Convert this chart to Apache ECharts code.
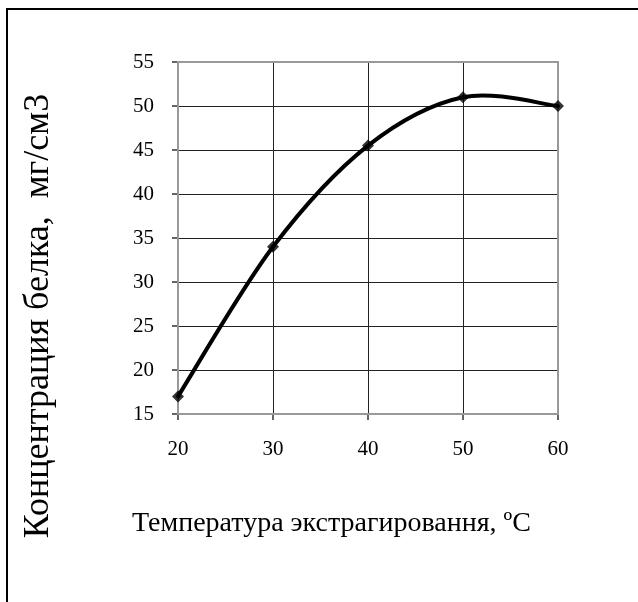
<!DOCTYPE html>
<html><head><meta charset="utf-8">
<script src="https://cdn.jsdelivr.net/npm/echarts@6/dist/echarts.min.js"></script>
<style>html,body{margin:0;padding:0;background:#fff}#c{width:638px;height:602px}</style>
</head><body><div id="c"></div>
<script>
const temperatures = [20, 30, 40, 50, 60];
const proteinConc = [17, 34, 45.5, 51, 50];
const xTitle = 'Температура экстрагировання, ºС';
const yTitle = 'Концентрация белка,  мг/см3';

const chart = echarts.init(document.getElementById('c'));
const serif = '"Liberation Serif", "DejaVu Serif", serif';
const pts = temperatures.map((t, i) => [t, proteinConc[i]]);

// Excel-like smoothed segment between point i and i+1, drawn through the axes' scales
function renderSegment(params, api) {
  const i = params.dataIndex;
  const n = pts.length;
  if (i >= n - 1) return null;
  const P = k => api.coord(pts[Math.max(0, Math.min(n - 1, k))]);
  const p0 = P(i - 1), p1 = P(i), p2 = P(i + 1), p3 = P(i + 2);
  const t = 1 / 6;
  return {
    type: 'bezierCurve',
    shape: {
      x1: p1[0], y1: p1[1], x2: p2[0], y2: p2[1],
      cpx1: p1[0] + (p2[0] - p0[0]) * t, cpy1: p1[1] + (p2[1] - p0[1]) * t,
      cpx2: p2[0] - (p3[0] - p1[0]) * t, cpy2: p2[1] - (p3[1] - p1[1]) * t
    },
    style: { stroke: '#000', lineWidth: 4, fill: 'none', lineCap: 'round' }
  };
}

chart.setOption({
  animation: false,
  backgroundColor: '#fff',
  grid: { left: 178, right: 80, top: 62, bottom: 188, show: false },
  xAxis: {
    type: 'value', min: 20, max: 60, interval: 10,
    axisLine: { show: true, lineStyle: { color: '#555', width: 2 } },
    axisTick: { show: true, length: 6, lineStyle: { color: '#333', width: 1.5 } },
    axisLabel: { color: '#000', fontFamily: serif, fontSize: 21, margin: 25 },
    splitLine: { show: true, lineStyle: { color: '#222', width: 1 } }
  },
  yAxis: {
    type: 'value', min: 15, max: 55, interval: 5,
    axisLine: { show: true, lineStyle: { color: '#555', width: 2 } },
    axisTick: { show: true, length: 6, lineStyle: { color: '#333', width: 1.5 } },
    axisLabel: { color: '#000', fontFamily: serif, fontSize: 21, margin: 24 },
    splitLine: { show: true, lineStyle: { color: '#222', width: 1 } }
  },
  graphic: [
    { type: 'rect', shape: { x: 7, y: 9, width: 800, height: 800 }, style: { fill: 'none', stroke: '#000', lineWidth: 2 }, z: 0 },
    { type: 'rect', shape: { x: 178, y: 62, width: 380, height: 352 }, style: { fill: 'none', stroke: '#999', lineWidth: 2 }, z: 1 },
    { type: 'text', x: 132, y: 524, style: { text: xTitle, font: '28px ' + serif, fill: '#000', textAlign: 'left', textVerticalAlign: 'middle' } },
    { type: 'text', x: 39, y: 316, rotation: Math.PI / 2, style: { text: yTitle, font: '36px ' + serif, fill: '#000', textAlign: 'center', textVerticalAlign: 'middle' } }
  ],
  series: [
    {
      type: 'custom',
      data: pts,
      renderItem: renderSegment,
      z: 5
    },
    {
      type: 'scatter',
      data: pts,
      symbol: 'diamond', symbolSize: 12,
      itemStyle: { color: '#000' },
      z: 6
    }
  ]
});
</script></body></html>
